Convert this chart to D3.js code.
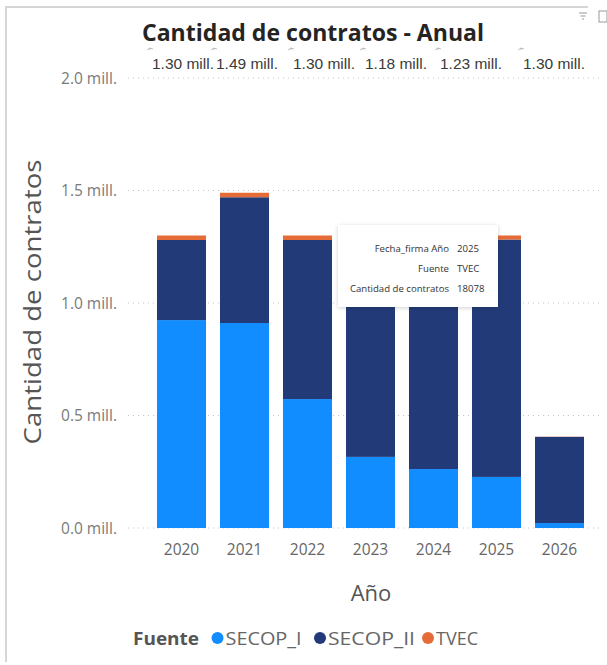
<!DOCTYPE html>
<html><head><meta charset="utf-8">
<script src="https://cdn.jsdelivr.net/npm/d3@7"></script>
<style>
html,body{margin:0;padding:0;background:#fff;}
svg{display:block;font-family:"Open Sans",sans-serif;}
</style></head>
<body><svg id="c" width="607" height="665"></svg>
<script>
// ---- data ----
const years = ["2020","2021","2022","2023","2024","2025","2026"];
const seriesNames = ["SECOP_I","SECOP_II","TVEC"];
const secopI  = [924000, 911000, 573000, 316000, 262000, 227000, 22000];
const secopII = [356000, 559000, 707000, 846000, 950000, 1055000, 383000];
const tvec    = [20000, 20000, 20000, 18000, 18000, 18078, 1000];
const totalLabels = ["1.30 mill.","1.49 mill.","1.30 mill.","1.18 mill.","1.23 mill.","1.30 mill."];
const yTicks = [0, 500000, 1000000, 1500000, 2000000];
const tooltipRows = [["Fecha_firma Año","2025"],["Fuente","TVEC"],["Cantidad de contratos","18078"]];
const colors = ["#118DFF","#223A78","#E66C37"];

const svg = d3.select("#c");

// frame
svg.append("line").attr("x1",6).attr("x2",6).attr("y1",8).attr("y2",662).attr("stroke","#c8c8c8").attr("stroke-width",1.5);
svg.append("line").attr("x1",5).attr("x2",588).attr("y1",7).attr("y2",7).attr("stroke","#c8c8c8").attr("stroke-width",1.5);
// top-right icons
const ic = svg.append("g").attr("stroke","#9a9a9a").attr("stroke-width",1);
[[579,587,13],[580.5,585.5,16],[582,584,19]].forEach(d=>ic.append("line").attr("x1",d[0]).attr("x2",d[1]).attr("y1",d[2]).attr("y2",d[2]));
ic.append("rect").attr("x",599).attr("y",11).attr("width",8).attr("height",11).attr("fill","none");

const x = d3.scaleBand().domain(years).range([150,591]).paddingInner(0.222).paddingOuter(0.111);
const y = d3.scaleLinear().domain([0,2000000]).range([528,78]);

// gridlines
svg.append("g").selectAll("line").data(yTicks).join("line")
  .attr("x1",128).attr("x2",600).attr("y1",d=>y(d)).attr("y2",d=>y(d))
  .attr("stroke","#c4c4c4").attr("stroke-width",1).attr("stroke-dasharray","1,4");

// y axis labels
const yAxis = d3.axisLeft(y).tickValues(yTicks).tickSize(0).tickPadding(0)
  .tickFormat(d=>(d/1e6).toFixed(1)+" mill.");
const ya = svg.append("g").attr("transform","translate(117,0)").call(yAxis);
ya.select(".domain").remove();
ya.selectAll("text").attr("font-family","Open Sans").attr("font-size",15.5).attr("fill","#7a7a7a").attr("dy","0.35em");

// x axis labels
const xAxis = d3.axisBottom(x).tickSize(0).tickPadding(0);
const xa = svg.append("g").attr("transform","translate(0,543)").call(xAxis);
xa.select(".domain").remove();
xa.selectAll("text").attr("font-family","Open Sans").attr("font-size",15.5).attr("fill","#666").attr("dy","0.8em");

// stacked bars
const table = years.map((yr,i)=>({year:yr, SECOP_I:secopI[i], SECOP_II:secopII[i], TVEC:tvec[i]}));
const stack = d3.stack().keys(seriesNames)(table);
const color = d3.scaleOrdinal().domain(seriesNames).range(colors);
svg.append("g").selectAll("g").data(stack).join("g").attr("fill",d=>color(d.key))
  .selectAll("rect").data(d=>d).join("rect")
  .attr("x",d=>x(d.data.year)).attr("width",x.bandwidth())
  .attr("y",d=>y(d[1])).attr("height",d=>Math.max(0,y(d[0])-y(d[1])));

// total labels row (separate card-like row above the plot)
const labelOffsets = [-5,-4,10,19,31,51];
const tl = svg.append("g");
totalLabels.forEach((t,i)=>{
  const lx = x(years[i]) + labelOffsets[i];
  tl.append("text").attr("x",lx).attr("y",69).text(t)
    .attr("font-family","Liberation Sans, Arial").attr("font-size",15.5).attr("fill","#3a3a3a");
  tl.append("path").attr("d",`M${lx-5},${50} l3,-2 l3,1 M${lx-2},${48} l0,2`).attr("stroke","#aaa").attr("fill","none").attr("stroke-width",0.8);
});

// title
svg.append("text").attr("x",313).attr("y",41).attr("text-anchor","middle")
  .attr("font-family","Open Sans").attr("font-weight",700).attr("font-size",23)
  .attr("fill","#252423").attr("textLength",342).attr("lengthAdjust","spacingAndGlyphs")
  .text("Cantidad de contratos - Anual");

// axis titles
svg.append("text").attr("transform","translate(41,302) rotate(-90)").attr("text-anchor","middle")
  .attr("font-family","Open Sans").attr("font-size",24).attr("fill","#555")
  .attr("textLength",285).attr("lengthAdjust","spacingAndGlyphs")
  .text("Cantidad de contratos");
svg.append("text").attr("x",371).attr("y",601).attr("text-anchor","middle")
  .attr("font-family","Open Sans").attr("font-size",22).attr("fill","#555").text("Año");

// legend
const lg = svg.append("g");
lg.append("text").attr("x",133).attr("y",645).attr("font-family","Open Sans").attr("font-weight",700)
  .attr("font-size",17.5).attr("fill","#555").attr("textLength",66).attr("lengthAdjust","spacingAndGlyphs").text("Fuente");
const legendItems = [{n:"SECOP_I",cx:217.5,tw:76},{n:"SECOP_II",cx:320,tw:87},{n:"TVEC",cx:428,tw:42}];
legendItems.forEach(it=>{
  lg.append("circle").attr("cx",it.cx).attr("cy",638).attr("r",6).attr("fill",color(it.n));
  lg.append("text").attr("x",it.cx+8).attr("y",645).attr("font-family","Open Sans").attr("font-size",17.5)
    .attr("fill","#666").attr("textLength",it.tw).attr("lengthAdjust","spacingAndGlyphs").text(it.n);
});

// tooltip
const defs = svg.append("defs");
const f = defs.append("filter").attr("id","sh").attr("x","-10%").attr("y","-10%").attr("width","130%").attr("height","130%");
f.append("feDropShadow").attr("dx",0).attr("dy",1).attr("stdDeviation",2).attr("flood-color","#000").attr("flood-opacity",0.18);
const tt = svg.append("g");
tt.append("rect").attr("x",338).attr("y",225).attr("width",160).attr("height",82).attr("fill","#fff").attr("filter","url(#sh)");
tooltipRows.forEach((r,i)=>{
  const ty = 252 + i*20;
  tt.append("text").attr("x",449).attr("y",ty).attr("text-anchor","end").attr("font-family","Open Sans")
    .attr("font-size",9.6).attr("fill","#333").text(r[0]);
  tt.append("text").attr("x",457).attr("y",ty).attr("font-family","Open Sans")
    .attr("font-size",9.6).attr("fill","#333").text(r[1]);
});
</script></body></html>
